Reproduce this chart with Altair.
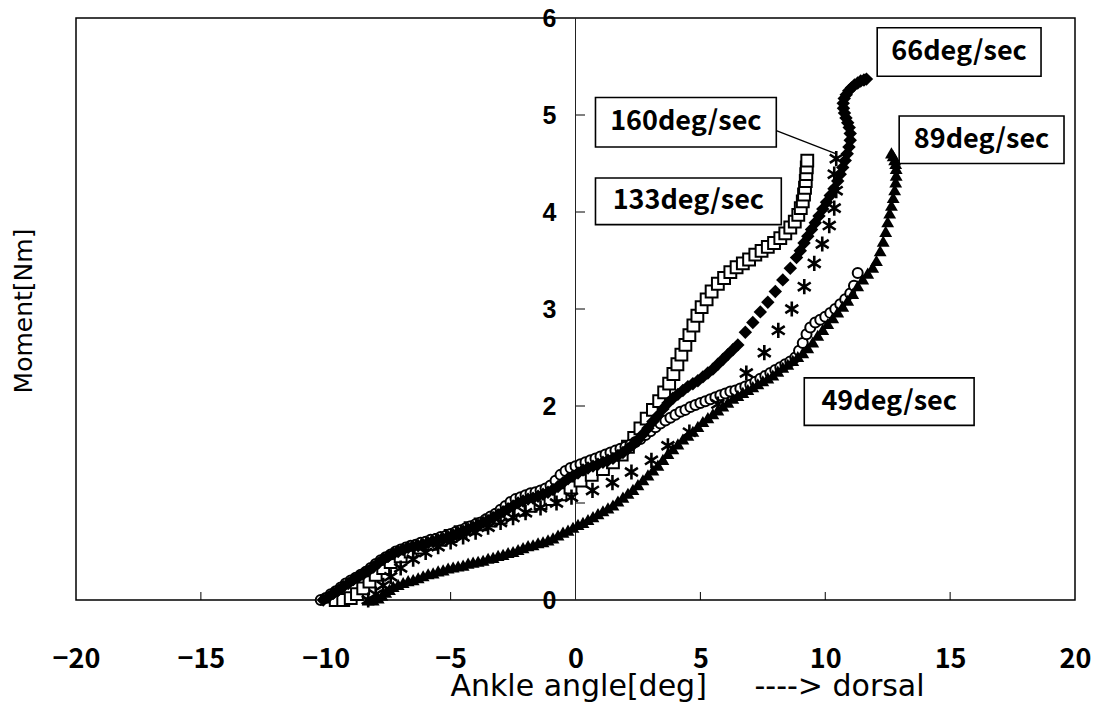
import altair as alt
import pandas as pd

# ---------------- data ----------------
# 49deg/sec  (open circles)
x49 = [-10.2, -10.0, -9.8, -9.6, -9.4, -9.2, -9.0, -8.8, -8.6, -8.4, -8.2, -8.0, -7.8, -7.6,
       -7.4, -7.2, -7.0, -6.8, -6.6, -6.4, -6.2, -6.0, -5.8, -5.6, -5.4, -5.2, -5.0, -4.8,
       -4.6, -4.4, -4.2, -4.0, -3.8, -3.6, -3.4, -3.2, -3.0, -2.8, -2.6, -2.4, -2.2, -2.0,
       -1.8, -1.6, -1.4, -1.2, -1.0, -0.8, -0.6, -0.4, -0.2, 0.0, 0.2, 0.4, 0.6, 0.8, 1.0,
       1.2, 1.4, 1.6, 1.8, 2.0, 2.2, 2.4, 2.6, 2.8, 3.0, 3.2, 3.4, 3.6, 3.8, 4.0, 4.2, 4.4,
       4.6, 4.8, 5.0, 5.2, 5.4, 5.6, 5.8, 6.0, 6.2, 6.4, 6.6, 6.8, 7.0, 7.2, 7.4, 7.6, 7.8,
       8.0, 8.2, 8.4, 8.6, 8.8, 8.95, 9.1, 9.25, 9.4, 9.6, 9.8, 10.0, 10.2, 10.4, 10.6, 10.8,
       11.0, 11.15, 11.3]
y49 = [0.00, 0.02, 0.06, 0.09, 0.13, 0.17, 0.20, 0.23, 0.26, 0.29, 0.33, 0.37, 0.41, 0.44,
       0.47, 0.50, 0.52, 0.54, 0.56, 0.57, 0.59, 0.60, 0.62, 0.63, 0.65, 0.66, 0.68, 0.70,
       0.72, 0.74, 0.76, 0.78, 0.80, 0.83, 0.86, 0.89, 0.93, 0.97, 1.01, 1.04, 1.06, 1.08,
       1.10, 1.11, 1.13, 1.15, 1.18, 1.23, 1.29, 1.33, 1.36, 1.38, 1.40, 1.42, 1.44, 1.46, 1.48,
       1.50, 1.52, 1.54, 1.56, 1.58, 1.60, 1.63, 1.66, 1.70, 1.74, 1.78, 1.82, 1.85, 1.88, 1.91,
       1.94, 1.96, 1.99, 2.01, 2.03, 2.05, 2.07, 2.09, 2.11, 2.13, 2.15, 2.16, 2.18, 2.20, 2.22,
       2.25, 2.28, 2.31, 2.34, 2.37, 2.40, 2.43, 2.46, 2.50, 2.57, 2.65, 2.74, 2.81, 2.86, 2.89,
       2.92, 2.96, 3.00, 3.05, 3.10, 3.16, 3.24, 3.37]

# 66deg/sec  (filled diamonds)
x66 = [-10.1, -9.9, -9.7, -9.5, -9.3, -9.1, -8.9, -8.7, -8.5, -8.3, -8.1, -7.9, -7.7, -7.5,
       -7.3, -7.1, -6.9, -6.7, -6.5, -6.3, -6.1, -5.9, -5.7, -5.5, -5.3, -5.1, -4.9, -4.7,
       -4.5, -4.3, -4.1, -3.9, -3.7, -3.5, -3.3, -3.1, -2.9, -2.7, -2.5, -2.3, -2.1, -1.9,
       -1.7, -1.5, -1.3, -1.1, -0.9, -0.7, -0.5, -0.3, -0.1, 0.1, 0.3, 0.5, 0.7, 0.9, 1.1,
       1.3, 1.5, 1.7, 1.9, 2.1, 2.3, 2.5, 2.7, 2.9, 3.1, 3.3, 3.5, 3.7, 3.9, 4.1, 4.3, 4.5,
       4.7, 4.9, 5.1, 5.3, 5.5, 5.7, 5.9, 6.1, 6.3, 6.5, 6.8, 7.1, 7.4, 7.7, 8.0, 8.3, 8.6,
       8.85, 9.0, 9.15, 9.3, 9.45, 9.6, 9.75, 9.9, 10.05, 10.2, 10.35, 10.5, 10.6, 10.7, 10.8,
       10.88, 10.95, 11.0, 11.0, 10.96, 10.9, 10.83, 10.77, 10.73, 10.72, 10.76, 10.84, 10.94,
       11.05, 11.17, 11.3, 11.42, 11.55, 11.65]
y66 = [0.00, 0.03, 0.07, 0.10, 0.14, 0.17, 0.21, 0.24, 0.27, 0.30, 0.34, 0.38, 0.42, 0.45,
       0.48, 0.50, 0.52, 0.54, 0.55, 0.56, 0.57, 0.59, 0.60, 0.62, 0.63, 0.65, 0.67, 0.69,
       0.71, 0.73, 0.75, 0.77, 0.80, 0.82, 0.85, 0.88, 0.91, 0.94, 0.97, 1.00, 1.02, 1.04,
       1.05, 1.07, 1.09, 1.11, 1.14, 1.17, 1.21, 1.25, 1.28, 1.31, 1.34, 1.36, 1.38, 1.40, 1.42,
       1.44, 1.46, 1.49, 1.52, 1.56, 1.60, 1.65, 1.71, 1.77, 1.84, 1.90, 1.97, 2.03, 2.08, 2.12,
       2.16, 2.20, 2.23, 2.26, 2.30, 2.34, 2.38, 2.43, 2.48, 2.53, 2.58, 2.63, 2.76, 2.86, 2.97,
       3.07, 3.18, 3.30, 3.42, 3.53, 3.60, 3.68, 3.75, 3.82, 3.89, 3.96, 4.03, 4.10, 4.17, 4.24,
       4.32, 4.39, 4.46, 4.53, 4.60, 4.67, 4.74, 4.81, 4.87, 4.92, 4.97, 5.02, 5.07, 5.12, 5.17,
       5.21, 5.25, 5.28, 5.31, 5.33, 5.35, 5.36, 5.37]

# 89deg/sec  (filled triangles)
x89 = [-8.3, -8.1, -7.9, -7.75, -7.6, -7.45, -7.3, -7.1, -6.9, -6.7, -6.5, -6.3, -6.1, -5.9,
       -5.7, -5.5, -5.3, -5.1, -4.9, -4.7, -4.5, -4.3, -4.1, -3.9, -3.7, -3.5, -3.3, -3.1,
       -2.9, -2.7, -2.5, -2.3, -2.1, -1.9, -1.7, -1.5, -1.3, -1.1, -0.9, -0.7, -0.5, -0.3,
       -0.1, 0.1, 0.3, 0.5, 0.7, 0.9, 1.1, 1.3, 1.5, 1.7, 1.9, 2.1, 2.3, 2.5, 2.7, 2.9, 3.1,
       3.3, 3.5, 3.7, 3.9, 4.1, 4.3, 4.5, 4.7, 4.9, 5.1, 5.3, 5.5, 5.7, 5.9, 6.1, 6.3, 6.5,
       6.7, 6.9, 7.1, 7.3, 7.5, 7.7, 7.9, 8.1, 8.3, 8.5, 8.7, 8.9, 9.1, 9.3, 9.5, 9.7, 9.9,
       10.1, 10.3, 10.5, 10.7, 10.9, 11.1, 11.3, 11.5, 11.7, 11.9, 12.05, 12.2, 12.32, 12.42,
       12.5, 12.58, 12.65, 12.72, 12.78, 12.82, 12.84, 12.84, 12.82, 12.78, 12.72, 12.65]
y89 = [0.00, 0.00, 0.02, 0.05, 0.08, 0.11, 0.14, 0.16, 0.18, 0.20, 0.21, 0.23, 0.25, 0.27,
       0.28, 0.30, 0.31, 0.33, 0.34, 0.35, 0.36, 0.38, 0.39, 0.40, 0.41, 0.43, 0.44, 0.46,
       0.47, 0.49, 0.50, 0.52, 0.54, 0.56, 0.57, 0.59, 0.60, 0.62, 0.64, 0.67, 0.70, 0.72,
       0.75, 0.78, 0.80, 0.83, 0.86, 0.89, 0.92, 0.95, 0.98, 1.02, 1.06, 1.10, 1.14, 1.19, 1.24,
       1.29, 1.34, 1.39, 1.45, 1.51, 1.56, 1.61, 1.66, 1.70, 1.74, 1.79, 1.84, 1.88, 1.92, 1.96,
       2.00, 2.04, 2.08, 2.11, 2.14, 2.17, 2.20, 2.23, 2.26, 2.29, 2.32, 2.36, 2.40, 2.43, 2.47,
       2.51, 2.55, 2.60, 2.66, 2.73, 2.79, 2.85, 2.91, 2.97, 3.03, 3.09, 3.16, 3.24, 3.31, 3.37,
       3.43, 3.50, 3.60, 3.70, 3.80, 3.90, 3.99, 4.07, 4.15, 4.23, 4.31, 4.38, 4.45, 4.50, 4.54,
       4.58, 4.61]

# 133deg/sec  (open squares)
x133 = [-9.6, -9.3, -9.0, -8.75, -8.5, -8.25, -8.0, -7.7, -7.4, -7.0, -6.6, -6.2, -5.8, -5.4,
        -5.0, -4.6, -4.2, -3.8, -3.4, -3.0, -2.6, -2.2, -1.8, -1.4, -1.0, -0.6, -0.2, 0.2, 0.65,
        1.1, 1.5, 1.85, 2.1, 2.35, 2.6, 2.85, 3.1, 3.35, 3.55, 3.75, 3.92, 4.08, 4.24, 4.4,
        4.56, 4.72, 4.88, 5.05, 5.25, 5.45, 5.7, 5.95, 6.2, 6.45, 6.7, 6.95, 7.2, 7.45, 7.7,
        7.95, 8.2, 8.4, 8.6, 8.78, 8.92, 9.02, 9.1, 9.15, 9.19, 9.22, 9.24, 9.26, 9.28]
y133 = [0.00, 0.00, 0.02, 0.06, 0.12, 0.19, 0.26, 0.33, 0.39, 0.45, 0.50, 0.54, 0.58, 0.62,
        0.66, 0.70, 0.74, 0.78, 0.82, 0.85, 0.89, 0.93, 0.97, 1.00, 1.04, 1.09, 1.16, 1.23, 1.29,
        1.35, 1.42, 1.50, 1.58, 1.67, 1.77, 1.87, 1.96, 2.05, 2.14, 2.23, 2.33, 2.43, 2.53, 2.63,
        2.73, 2.83, 2.93, 3.02, 3.10, 3.18, 3.26, 3.32, 3.38, 3.43, 3.47, 3.51, 3.56, 3.60, 3.64,
        3.68, 3.73, 3.78, 3.84, 3.90, 3.97, 4.04, 4.11, 4.18, 4.25, 4.32, 4.39, 4.46, 4.53]

# 160deg/sec  (asterisks)
x160 = [-8.3, -8.0, -7.7, -7.4, -7.0, -6.5, -6.0, -5.5, -5.0, -4.5, -4.0, -3.5, -3.0, -2.5,
        -2.0, -1.4, -0.76, -0.16, 0.68, 1.48, 2.24, 3.04, 3.7, 4.56, 5.7, 6.84, 7.56, 8.12,
        8.66, 9.16, 9.56, 9.88, 10.16, 10.36, 10.44, 10.36, 10.44]
y160 = [0.00, 0.06, 0.15, 0.24, 0.33, 0.42, 0.49, 0.55, 0.60, 0.65, 0.70, 0.75, 0.80, 0.85,
        0.90, 0.95, 1.00, 1.06, 1.13, 1.21, 1.32, 1.44, 1.59, 1.73, 2.02, 2.34, 2.55, 2.78,
        3.00, 3.23, 3.47, 3.67, 3.86, 4.04, 4.22, 4.39, 4.55]

x_label_values = [-20, -15, -10, -5, 0, 5, 10, 15, 20]
y_label_values = [0, 1, 2, 3, 4, 5, 6]
x_tick_values = [-15, -10, -5, 5, 10, 15]
y_tick_values = [1, 2, 3, 4, 5]

# annotation boxes (data units)
ann_text = ["66deg/sec", "160deg/sec", "133deg/sec", "89deg/sec", "49deg/sec"]
ann_x1 = [12.08, 0.80, 0.80, 12.96, 9.16]
ann_x2 = [18.64, 8.04, 8.24, 19.56, 15.96]
ann_y1 = [5.40, 4.67, 3.87, 4.50, 1.80]
ann_y2 = [5.90, 5.18, 4.35, 4.99, 2.29]
leader_x = [8.04, 10.44]
leader_y = [4.84, 4.60]

x_title = "Ankle angle[deg]\u00a0\u00a0\u00a0\u00a0 ----> dorsal"
y_title = "Moment[Nm]"

# ---------------- build ----------------
JP = "Noto Sans CJK JP"
xscale = alt.Scale(domain=[-20, 20], nice=False, zero=False)
yscale = alt.Scale(domain=[0, 6], nice=False, zero=False)

xaxis = alt.Axis(values=x_label_values, title=x_title,
                 domain=False, ticks=False, grid=False, labelFont=JP, labelFontSize=27,
                 labelFontWeight="bold", labelPadding=46, labelColor="black", labelFlush=False,
                 titleFont="DejaVu Sans", titleFontSize=30, titleFontWeight="normal",
                 titleColor="black", titleX=611, titleY=95, titleBaseline="alphabetic")
yaxis = alt.Axis(values=y_label_values, labelExpr="datum.value == 1 ? '' : datum.label",
                 offset=-500, domain=False, ticks=False, grid=False,
                 labelFont="Liberation Sans", labelFontWeight="bold", labelFontSize=25,
                 labelPadding=20, labelColor="black", title=None, labelFlush=False)


def X(f):
    return alt.X(f, type="quantitative", scale=xscale, axis=xaxis)


def Y(f):
    return alt.Y(f, type="quantitative", scale=yscale, axis=yaxis)


def sdf(xs, ys):
    return pd.DataFrame({"angle": xs, "moment": ys, "i": list(range(len(xs)))})


yline = alt.Chart(pd.DataFrame({"v": [0]})).mark_rule(color="#222", strokeWidth=1).encode(x=X("v"))
xticks = alt.Chart(pd.DataFrame({"v": x_tick_values})).mark_rule(color="black", strokeWidth=1).encode(
    x=X("v"), y=alt.value(582), y2=alt.value(574))
yticks = alt.Chart(pd.DataFrame({"v": y_tick_values})).mark_rule(color="black", strokeWidth=1).encode(
    y=Y("v"), x=alt.value(500), x2=alt.value(509))

sq = alt.Chart(sdf(x133, y133)).mark_point(shape="square", filled=True, fill="white", stroke="black",
                                           strokeWidth=2, size=140, opacity=1).encode(
    x=X("angle"), y=Y("moment"))
circ = alt.Chart(sdf(x49, y49)).mark_point(shape="circle", filled=True, fill="white", stroke="black",
                                           strokeWidth=2, size=100, opacity=1).encode(
    x=X("angle"), y=Y("moment"))
diam = alt.Chart(sdf(x66, y66)).mark_point(shape="diamond", filled=True, color="black", size=180, opacity=1).encode(
    x=X("angle"), y=Y("moment"))
tri = alt.Chart(sdf(x89, y89)).mark_point(shape="triangle-up", filled=True, color="black", size=165, opacity=1).encode(
    x=X("angle"), y=Y("moment"))
ast = alt.Chart(sdf(x160, y160)).mark_point(shape="M0,-1L0,1M-0.85,-0.55L0.85,0.55M-0.85,0.55L0.85,-0.55",
                                            filled=False, stroke="black", strokeWidth=2.6, size=230, opacity=1).encode(
    x=X("angle"), y=Y("moment"))

ann = pd.DataFrame({"t": ann_text, "x1": ann_x1, "x2": ann_x2, "y1": ann_y1, "y2": ann_y2})
ann["xc"] = (ann["x1"] + ann["x2"]) / 2
ann["yc"] = (ann["y1"] + ann["y2"]) / 2
boxes = alt.Chart(ann).mark_rect(fill="white", stroke="black", strokeWidth=1.6).encode(
    x=X("x1"), x2="x2", y=Y("y1"), y2="y2")
texts = alt.Chart(ann).mark_text(font=JP, fontSize=27, fontWeight="bold", color="black",
                                 align="center", baseline="middle").encode(
    x=X("xc"), y=Y("yc"), text="t:N")
leader = alt.Chart(pd.DataFrame({"x": leader_x, "y": leader_y})).mark_line(color="black", strokeWidth=1.3).encode(
    x=X("x"), y=Y("y"))

ytitle = alt.Chart(pd.DataFrame({"t": [y_title]})).mark_text(
    font="DejaVu Sans", fontSize=25, angle=270, color="black", align="center", baseline="middle").encode(
    text="t:N", x=alt.value(-52), y=alt.value(293))

chart = alt.layer(yline, xticks, yticks, sq, circ, diam, tri, ast, leader, boxes, texts, ytitle).properties(
    width=999, height=582,
    padding={"left": 68, "top": 10, "right": 17, "bottom": 103},
    autosize=alt.AutoSizeParams(type="none"),
    background="white",
).configure_view(stroke="black", strokeWidth=1.5)

chart.save("out.html", embed_options={"renderer": "svg", "actions": False})
